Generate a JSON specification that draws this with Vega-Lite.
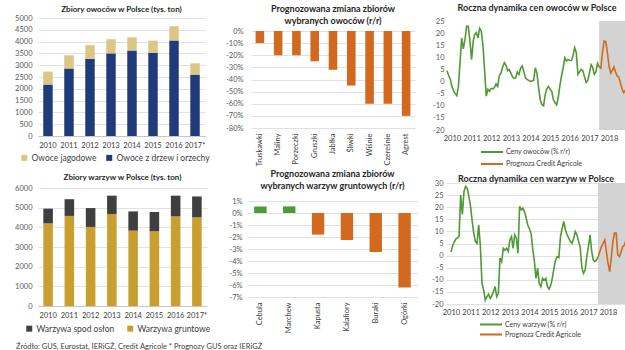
{
 "$schema": "https://vega.github.io/schema/vega-lite/v6.json",
 "padding": {"left": 0, "top": 3, "right": 0, "bottom": 0},
 "background": "white",
 "config": {
   "font": "Lato",
   "view": {"stroke": null},
   "axis": {"labelFont": "Lato", "labelFontSize": 7.5, "labelColor": "#595959", "gridColor": "#D9D9D9", "gridWidth": 0.8, "domainColor": "#BFBFBF", "domainWidth": 0.8, "ticks": false},
   "title": {"font": "Lato", "fontSize": 9, "fontWeight": "bold", "color": "#262626", "lineHeight": 12},
   "legend": {"labelFont": "Lato", "labelColor": "#404040"}
 },
 "title": {"text": "Źródło: GUS, Eurostat, IERiGŻ, Credit Agricole  * Prognozy GUS oraz IERiGŻ", "orient": "bottom", "anchor": "start", "fontSize": 7.5, "fontWeight": "normal", "color": "#404040", "offset": 4, "dx": 16},
 "spacing": 1,
 "resolve": {"scale": {"x": "independent", "y": "independent", "color": "independent"}},
 "vconcat": [
  {
   "spacing": 5,
   "resolve": {"scale": {"x": "independent", "y": "independent", "color": "independent"}},
   "hconcat": [
    {
     "width": 167, "height": 118,
     "title": {"text": "Zbiory owoców w Polsce (tys. ton)", "anchor": "middle", "offset": 0, "fontSize": 8},
     "data": {"values": [
       {"rok": "2010", "kategoria": "Owoce z drzew i orzechy", "tys_ton": 2180},
       {"rok": "2010", "kategoria": "Owoce jagodowe", "tys_ton": 550},
       {"rok": "2011", "kategoria": "Owoce z drzew i orzechy", "tys_ton": 2860},
       {"rok": "2011", "kategoria": "Owoce jagodowe", "tys_ton": 560},
       {"rok": "2012", "kategoria": "Owoce z drzew i orzechy", "tys_ton": 3270},
       {"rok": "2012", "kategoria": "Owoce jagodowe", "tys_ton": 580},
       {"rok": "2013", "kategoria": "Owoce z drzew i orzechy", "tys_ton": 3500},
       {"rok": "2013", "kategoria": "Owoce jagodowe", "tys_ton": 600},
       {"rok": "2014", "kategoria": "Owoce z drzew i orzechy", "tys_ton": 3620},
       {"rok": "2014", "kategoria": "Owoce jagodowe", "tys_ton": 560},
       {"rok": "2015", "kategoria": "Owoce z drzew i orzechy", "tys_ton": 3520},
       {"rok": "2015", "kategoria": "Owoce jagodowe", "tys_ton": 520},
       {"rok": "2016", "kategoria": "Owoce z drzew i orzechy", "tys_ton": 4050},
       {"rok": "2016", "kategoria": "Owoce jagodowe", "tys_ton": 600},
       {"rok": "2017*", "kategoria": "Owoce z drzew i orzechy", "tys_ton": 2600},
       {"rok": "2017*", "kategoria": "Owoce jagodowe", "tys_ton": 480}
     ]},
     "mark": {"type": "bar"},
     "encoding": {
       "x": {"field": "rok", "type": "ordinal", "sort": null, "title": null, "scale": {"paddingInner": 0.55, "paddingOuter": 0.25}, "axis": {"labelAngle": 0, "labelPadding": 5, "labelColor": "#404040"}},
       "y": {"field": "tys_ton", "type": "quantitative", "stack": "zero", "title": null, "scale": {"domain": [0, 5000]}, "axis": {"values": [0, 500, 1000, 1500, 2000, 2500, 3000, 3500, 4000, 4500, 5000], "format": "d", "domain": false, "labelPadding": 6, "minExtent": 38, "maxExtent": 38}},
       "color": {"field": "kategoria", "type": "nominal", "scale": {"domain": ["Owoce jagodowe", "Owoce z drzew i orzechy"], "range": ["#DDC583", "#1F3B7A"]}, "legend": {"title": null, "orient": "none", "legendX": -18, "legendY": 135.5, "direction": "horizontal", "symbolType": "square", "symbolSize": 36, "labelFontSize": 8.5, "columnPadding": 8, "labelOffset": 3}},
       "order": {"field": "kategoria", "sort": "descending"}
     }
    },
    {
     "width": 164, "height": 110,
     "title": {"text": ["Prognozowana zmiana zbiorów", "wybranych owoców (r/r)"], "anchor": "middle", "offset": -7.5, "frame": "group"},
     "data": {"values": [
       {"owoc": "Truskawki", "zmiana": -10},
       {"owoc": "Maliny", "zmiana": -20},
       {"owoc": "Porzeczki", "zmiana": -20},
       {"owoc": "Gruszki", "zmiana": -25},
       {"owoc": "Jabłka", "zmiana": -32},
       {"owoc": "Śliwki", "zmiana": -45},
       {"owoc": "Wiśnie", "zmiana": -60},
       {"owoc": "Czereśnie", "zmiana": -60},
       {"owoc": "Agrest", "zmiana": -70}
     ]},
     "mark": {"type": "bar", "color": "#D2691E"},
     "encoding": {
       "x": {"field": "owoc", "type": "nominal", "sort": null, "title": null, "scale": {"paddingInner": 0.53, "paddingOuter": 0.25}, "axis": {"labelAngle": -90, "domain": false, "labelPadding": 5, "labelColor": "#404040"}},
       "y": {"field": "zmiana", "type": "quantitative", "title": null, "scale": {"domain": [-80, 0], "range": [110, 13]}, "axis": {"values": [-80, -70, -60, -50, -40, -30, -20, -10, 0], "labelExpr": "datum.value + '%'", "domain": false, "labelPadding": 8, "minExtent": 36, "maxExtent": 36}}
     }
    },
    {
     "width": 180, "height": 112,
     "title": {"text": "Roczna dynamika cen owoców w Polsce", "anchor": "middle", "offset": 4.2},
     "layer": [
      {
       "data": {"values": [{"poczatek": "2017-07", "koniec": "2018-12"}], "format": {"parse": {"poczatek": "date", "koniec": "date"}}},
       "mark": {"type": "rect", "color": "#D3D3D3"},
       "encoding": {
         "x": {"field": "poczatek", "type": "temporal", "title": null, "scale": {"type": "utc", "domain": [{"year": 2009, "month": 10, "date": 1, "utc": true}, {"year": 2018, "month": 12, "date": 1, "utc": true}]}, "axis": {"format": "%Y", "values": [{"year": 2010, "utc": true}, {"year": 2011, "utc": true}, {"year": 2012, "utc": true}, {"year": 2013, "utc": true}, {"year": 2014, "utc": true}, {"year": 2015, "utc": true}, {"year": 2016, "utc": true}, {"year": 2017, "utc": true}, {"year": 2018, "utc": true}], "labelOverlap": false, "grid": false, "domain": false, "labelPadding": 4, "labelColor": "#404040"}},
         "x2": {"field": "koniec"},
         "y": {"datum": 25, "type": "quantitative", "title": null, "scale": {"domain": [-20, 25], "range": [112, 3]}, "axis": {"values": [-20, -15, -10, -5, 0, 5, 10, 15, 20, 25], "labelExpr": "datum.value + ''", "domain": false, "labelPadding": 3, "minExtent": 27, "maxExtent": 27}},
         "y2": {"datum": -20}
       }
      },
      {
       "data": {"values": [
        {"miesiac": "2009-10", "zmiana": 4.5, "seria": "Ceny owoców (% r/r)"},
        {"miesiac": "2009-11", "zmiana": 2.5, "seria": "Ceny owoców (% r/r)"},
        {"miesiac": "2009-12", "zmiana": 1, "seria": "Ceny owoców (% r/r)"},
        {"miesiac": "2010-01", "zmiana": -2, "seria": "Ceny owoców (% r/r)"},
        {"miesiac": "2010-02", "zmiana": -3.8, "seria": "Ceny owoców (% r/r)"},
        {"miesiac": "2010-03", "zmiana": -5, "seria": "Ceny owoców (% r/r)"},
        {"miesiac": "2010-04", "zmiana": -5.8, "seria": "Ceny owoców (% r/r)"},
        {"miesiac": "2010-05", "zmiana": -2, "seria": "Ceny owoców (% r/r)"},
        {"miesiac": "2010-06", "zmiana": 8, "seria": "Ceny owoców (% r/r)"},
        {"miesiac": "2010-07", "zmiana": 18, "seria": "Ceny owoców (% r/r)"},
        {"miesiac": "2010-08", "zmiana": 13.5, "seria": "Ceny owoców (% r/r)"},
        {"miesiac": "2010-09", "zmiana": 17.5, "seria": "Ceny owoców (% r/r)"},
        {"miesiac": "2010-10", "zmiana": 22.8, "seria": "Ceny owoców (% r/r)"},
        {"miesiac": "2010-11", "zmiana": 22.8, "seria": "Ceny owoców (% r/r)"},
        {"miesiac": "2010-12", "zmiana": 17, "seria": "Ceny owoców (% r/r)"},
        {"miesiac": "2011-01", "zmiana": 9, "seria": "Ceny owoców (% r/r)"},
        {"miesiac": "2011-02", "zmiana": 16.7, "seria": "Ceny owoców (% r/r)"},
        {"miesiac": "2011-03", "zmiana": 19.5, "seria": "Ceny owoców (% r/r)"},
        {"miesiac": "2011-04", "zmiana": 20.2, "seria": "Ceny owoców (% r/r)"},
        {"miesiac": "2011-05", "zmiana": 18, "seria": "Ceny owoców (% r/r)"},
        {"miesiac": "2011-06", "zmiana": 22, "seria": "Ceny owoców (% r/r)"},
        {"miesiac": "2011-07", "zmiana": 20.8, "seria": "Ceny owoców (% r/r)"},
        {"miesiac": "2011-08", "zmiana": 15, "seria": "Ceny owoców (% r/r)"},
        {"miesiac": "2011-09", "zmiana": 4.3, "seria": "Ceny owoców (% r/r)"},
        {"miesiac": "2011-10", "zmiana": -6, "seria": "Ceny owoców (% r/r)"},
        {"miesiac": "2011-11", "zmiana": -3.2, "seria": "Ceny owoców (% r/r)"},
        {"miesiac": "2011-12", "zmiana": -4, "seria": "Ceny owoców (% r/r)"},
        {"miesiac": "2012-01", "zmiana": -2.8, "seria": "Ceny owoców (% r/r)"},
        {"miesiac": "2012-02", "zmiana": -3, "seria": "Ceny owoców (% r/r)"},
        {"miesiac": "2012-03", "zmiana": -2.5, "seria": "Ceny owoców (% r/r)"},
        {"miesiac": "2012-04", "zmiana": -1, "seria": "Ceny owoców (% r/r)"},
        {"miesiac": "2012-05", "zmiana": -2, "seria": "Ceny owoców (% r/r)"},
        {"miesiac": "2012-06", "zmiana": 2.5, "seria": "Ceny owoców (% r/r)"},
        {"miesiac": "2012-07", "zmiana": 3.5, "seria": "Ceny owoców (% r/r)"},
        {"miesiac": "2012-08", "zmiana": 6, "seria": "Ceny owoców (% r/r)"},
        {"miesiac": "2012-09", "zmiana": 7.8, "seria": "Ceny owoców (% r/r)"},
        {"miesiac": "2012-10", "zmiana": 6.8, "seria": "Ceny owoców (% r/r)"},
        {"miesiac": "2012-11", "zmiana": 4.5, "seria": "Ceny owoców (% r/r)"},
        {"miesiac": "2012-12", "zmiana": 5, "seria": "Ceny owoców (% r/r)"},
        {"miesiac": "2013-01", "zmiana": 3.5, "seria": "Ceny owoców (% r/r)"},
        {"miesiac": "2013-02", "zmiana": 2, "seria": "Ceny owoców (% r/r)"},
        {"miesiac": "2013-03", "zmiana": 1.3, "seria": "Ceny owoców (% r/r)"},
        {"miesiac": "2013-04", "zmiana": 1.5, "seria": "Ceny owoców (% r/r)"},
        {"miesiac": "2013-05", "zmiana": 4, "seria": "Ceny owoców (% r/r)"},
        {"miesiac": "2013-06", "zmiana": 3, "seria": "Ceny owoców (% r/r)"},
        {"miesiac": "2013-07", "zmiana": 5.5, "seria": "Ceny owoców (% r/r)"},
        {"miesiac": "2013-08", "zmiana": 6.4, "seria": "Ceny owoców (% r/r)"},
        {"miesiac": "2013-09", "zmiana": 4, "seria": "Ceny owoców (% r/r)"},
        {"miesiac": "2013-10", "zmiana": 1.5, "seria": "Ceny owoców (% r/r)"},
        {"miesiac": "2013-11", "zmiana": 0.8, "seria": "Ceny owoców (% r/r)"},
        {"miesiac": "2013-12", "zmiana": 0.5, "seria": "Ceny owoców (% r/r)"},
        {"miesiac": "2014-01", "zmiana": 0, "seria": "Ceny owoców (% r/r)"},
        {"miesiac": "2014-02", "zmiana": 0.3, "seria": "Ceny owoców (% r/r)"},
        {"miesiac": "2014-03", "zmiana": 0.5, "seria": "Ceny owoców (% r/r)"},
        {"miesiac": "2014-04", "zmiana": 5.7, "seria": "Ceny owoców (% r/r)"},
        {"miesiac": "2014-05", "zmiana": 3.5, "seria": "Ceny owoców (% r/r)"},
        {"miesiac": "2014-06", "zmiana": -2.5, "seria": "Ceny owoców (% r/r)"},
        {"miesiac": "2014-07", "zmiana": -7.5, "seria": "Ceny owoców (% r/r)"},
        {"miesiac": "2014-08", "zmiana": -9.5, "seria": "Ceny owoców (% r/r)"},
        {"miesiac": "2014-09", "zmiana": -10, "seria": "Ceny owoców (% r/r)"},
        {"miesiac": "2014-10", "zmiana": -5.5, "seria": "Ceny owoców (% r/r)"},
        {"miesiac": "2014-11", "zmiana": -3, "seria": "Ceny owoców (% r/r)"},
        {"miesiac": "2014-12", "zmiana": -2, "seria": "Ceny owoców (% r/r)"},
        {"miesiac": "2015-01", "zmiana": -3.2, "seria": "Ceny owoców (% r/r)"},
        {"miesiac": "2015-02", "zmiana": -4, "seria": "Ceny owoców (% r/r)"},
        {"miesiac": "2015-03", "zmiana": -7.3, "seria": "Ceny owoców (% r/r)"},
        {"miesiac": "2015-04", "zmiana": -8.7, "seria": "Ceny owoców (% r/r)"},
        {"miesiac": "2015-05", "zmiana": -9.6, "seria": "Ceny owoców (% r/r)"},
        {"miesiac": "2015-06", "zmiana": -6.6, "seria": "Ceny owoców (% r/r)"},
        {"miesiac": "2015-07", "zmiana": -1.8, "seria": "Ceny owoców (% r/r)"},
        {"miesiac": "2015-08", "zmiana": 2.3, "seria": "Ceny owoców (% r/r)"},
        {"miesiac": "2015-09", "zmiana": 5.7, "seria": "Ceny owoców (% r/r)"},
        {"miesiac": "2015-10", "zmiana": 9.8, "seria": "Ceny owoców (% r/r)"},
        {"miesiac": "2015-11", "zmiana": 8.5, "seria": "Ceny owoców (% r/r)"},
        {"miesiac": "2015-12", "zmiana": 9.1, "seria": "Ceny owoców (% r/r)"},
        {"miesiac": "2016-01", "zmiana": 8.7, "seria": "Ceny owoców (% r/r)"},
        {"miesiac": "2016-02", "zmiana": 8.7, "seria": "Ceny owoców (% r/r)"},
        {"miesiac": "2016-03", "zmiana": 10.5, "seria": "Ceny owoców (% r/r)"},
        {"miesiac": "2016-04", "zmiana": 14, "seria": "Ceny owoców (% r/r)"},
        {"miesiac": "2016-05", "zmiana": 12, "seria": "Ceny owoców (% r/r)"},
        {"miesiac": "2016-06", "zmiana": 3, "seria": "Ceny owoców (% r/r)"},
        {"miesiac": "2016-07", "zmiana": 4, "seria": "Ceny owoców (% r/r)"},
        {"miesiac": "2016-08", "zmiana": 5, "seria": "Ceny owoców (% r/r)"},
        {"miesiac": "2016-09", "zmiana": 4.5, "seria": "Ceny owoców (% r/r)"},
        {"miesiac": "2016-10", "zmiana": 2, "seria": "Ceny owoców (% r/r)"},
        {"miesiac": "2016-11", "zmiana": -0.4, "seria": "Ceny owoców (% r/r)"},
        {"miesiac": "2016-12", "zmiana": 0.5, "seria": "Ceny owoców (% r/r)"},
        {"miesiac": "2017-01", "zmiana": 3.5, "seria": "Ceny owoców (% r/r)"},
        {"miesiac": "2017-02", "zmiana": 7, "seria": "Ceny owoców (% r/r)"},
        {"miesiac": "2017-03", "zmiana": 6, "seria": "Ceny owoców (% r/r)"},
        {"miesiac": "2017-04", "zmiana": 3, "seria": "Ceny owoców (% r/r)"},
        {"miesiac": "2017-05", "zmiana": 4, "seria": "Ceny owoców (% r/r)"},
        {"miesiac": "2017-06", "zmiana": 7.5, "seria": "Ceny owoców (% r/r)"},
        {"miesiac": "2017-07", "zmiana": 6, "seria": "Ceny owoców (% r/r)"},
        {"miesiac": "2017-07", "zmiana": 6, "seria": "Prognoza Credit Agricole"},
        {"miesiac": "2017-08", "zmiana": 5.5, "seria": "Prognoza Credit Agricole"},
        {"miesiac": "2017-09", "zmiana": 12, "seria": "Prognoza Credit Agricole"},
        {"miesiac": "2017-10", "zmiana": 16.7, "seria": "Prognoza Credit Agricole"},
        {"miesiac": "2017-11", "zmiana": 16.5, "seria": "Prognoza Credit Agricole"},
        {"miesiac": "2017-12", "zmiana": 12, "seria": "Prognoza Credit Agricole"},
        {"miesiac": "2018-01", "zmiana": 6.4, "seria": "Prognoza Credit Agricole"},
        {"miesiac": "2018-02", "zmiana": 3.5, "seria": "Prognoza Credit Agricole"},
        {"miesiac": "2018-03", "zmiana": 4.5, "seria": "Prognoza Credit Agricole"},
        {"miesiac": "2018-04", "zmiana": 6, "seria": "Prognoza Credit Agricole"},
        {"miesiac": "2018-05", "zmiana": 4, "seria": "Prognoza Credit Agricole"},
        {"miesiac": "2018-06", "zmiana": 2.3, "seria": "Prognoza Credit Agricole"},
        {"miesiac": "2018-07", "zmiana": 1.8, "seria": "Prognoza Credit Agricole"},
        {"miesiac": "2018-08", "zmiana": -0.5, "seria": "Prognoza Credit Agricole"},
        {"miesiac": "2018-09", "zmiana": -3.2, "seria": "Prognoza Credit Agricole"},
        {"miesiac": "2018-10", "zmiana": -4.6, "seria": "Prognoza Credit Agricole"},
        {"miesiac": "2018-11", "zmiana": -3.6, "seria": "Prognoza Credit Agricole"},
        {"miesiac": "2018-12", "zmiana": -2.8, "seria": "Prognoza Credit Agricole"}
       ]},
       "mark": {"type": "line", "strokeWidth": 1.6},
       "encoding": {
         "x": {"field": "miesiac", "type": "temporal", "title": null, "scale": {"type": "utc", "domain": [{"year": 2009, "month": 10, "date": 1, "utc": true}, {"year": 2018, "month": 12, "date": 1, "utc": true}]}, "axis": {"format": "%Y", "values": [{"year": 2010, "utc": true}, {"year": 2011, "utc": true}, {"year": 2012, "utc": true}, {"year": 2013, "utc": true}, {"year": 2014, "utc": true}, {"year": 2015, "utc": true}, {"year": 2016, "utc": true}, {"year": 2017, "utc": true}, {"year": 2018, "utc": true}], "labelOverlap": false, "grid": false, "domain": false, "labelPadding": 4, "labelColor": "#404040"}},
         "y": {"field": "zmiana", "type": "quantitative", "title": null, "scale": {"domain": [-20, 25], "range": [112, 3]}, "axis": {"values": [-20, -15, -10, -5, 0, 5, 10, 15, 20, 25], "labelExpr": "datum.value + ''", "domain": false, "labelPadding": 3, "minExtent": 27, "maxExtent": 27}},
         "color": {"field": "seria", "type": "nominal", "scale": {"domain": ["Ceny owoców (% r/r)", "Prognoza Credit Agricole"], "range": ["#4E9A34", "#D2691E"]}, "legend": {"title": null, "orient": "none", "legendX": 39, "legendY": 128, "direction": "vertical", "symbolType": "M-2.2,0H2.2", "symbolSize": 100, "symbolStrokeWidth": 2, "labelFontSize": 7, "rowPadding": 2, "labelOffset": 8}}
       }
      }
     ]
    }
   ]
  },
  {
   "spacing": 5,
   "resolve": {"scale": {"x": "independent", "y": "independent", "color": "independent"}},
   "hconcat": [
    {
     "width": 169, "height": 123,
     "title": {"text": "Zbiory warzyw w Polsce (tys. ton)", "anchor": "middle", "offset": 1, "fontSize": 8},
     "data": {"values": [
       {"rok": "2010", "kategoria": "Warzywa gruntowe", "tys_ton": 4200},
       {"rok": "2010", "kategoria": "Warzywa spod osłon", "tys_ton": 750},
       {"rok": "2011", "kategoria": "Warzywa gruntowe", "tys_ton": 4580},
       {"rok": "2011", "kategoria": "Warzywa spod osłon", "tys_ton": 850},
       {"rok": "2012", "kategoria": "Warzywa gruntowe", "tys_ton": 4020},
       {"rok": "2012", "kategoria": "Warzywa spod osłon", "tys_ton": 960},
       {"rok": "2013", "kategoria": "Warzywa gruntowe", "tys_ton": 4680},
       {"rok": "2013", "kategoria": "Warzywa spod osłon", "tys_ton": 930},
       {"rok": "2014", "kategoria": "Warzywa gruntowe", "tys_ton": 3830},
       {"rok": "2014", "kategoria": "Warzywa spod osłon", "tys_ton": 980},
       {"rok": "2015", "kategoria": "Warzywa gruntowe", "tys_ton": 3800},
       {"rok": "2015", "kategoria": "Warzywa spod osłon", "tys_ton": 980},
       {"rok": "2016", "kategoria": "Warzywa gruntowe", "tys_ton": 4560},
       {"rok": "2016", "kategoria": "Warzywa spod osłon", "tys_ton": 1050},
       {"rok": "2017*", "kategoria": "Warzywa gruntowe", "tys_ton": 4510},
       {"rok": "2017*", "kategoria": "Warzywa spod osłon", "tys_ton": 1060}
     ]},
     "mark": {"type": "bar"},
     "encoding": {
       "x": {"field": "rok", "type": "ordinal", "sort": null, "title": null, "scale": {"paddingInner": 0.55, "paddingOuter": 0.25}, "axis": {"labelAngle": 0, "labelPadding": 5, "labelColor": "#404040"}},
       "y": {"field": "tys_ton", "type": "quantitative", "stack": "zero", "title": null, "scale": {"domain": [0, 6000], "range": [123, 5]}, "axis": {"values": [0, 1000, 2000, 3000, 4000, 5000, 6000], "format": "d", "domain": false, "labelPadding": 6, "minExtent": 38, "maxExtent": 38}},
       "color": {"field": "kategoria", "type": "nominal", "scale": {"domain": ["Warzywa spod osłon", "Warzywa gruntowe"], "range": ["#3F3F3F", "#C9A030"]}, "legend": {"title": null, "orient": "none", "legendX": -13, "legendY": 141.3, "direction": "horizontal", "symbolType": "square", "symbolSize": 36, "labelFontSize": 8.5, "columnPadding": 11, "labelOffset": 3}},
       "order": {"field": "kategoria", "sort": "ascending"}
     }
    },
    {
     "width": 171, "height": 114,
     "title": {"text": ["Prognozowana zmiana zbiorów", "wybranych warzyw gruntowych (r/r)"], "anchor": "middle", "offset": -7.8, "frame": "group"},
     "data": {"values": [
       {"warzywo": "Cebula", "zmiana": 0.55},
       {"warzywo": "Marchew", "zmiana": 0.55},
       {"warzywo": "Kapusta", "zmiana": -1.8},
       {"warzywo": "Kalafiory", "zmiana": -2.25},
       {"warzywo": "Buraki", "zmiana": -3.25},
       {"warzywo": "Ogórki", "zmiana": -6.2}
     ]},
     "mark": {"type": "bar"},
     "encoding": {
       "x": {"field": "warzywo", "type": "nominal", "sort": null, "title": null, "scale": {"paddingInner": 0.57, "paddingOuter": 0.25}, "axis": {"labelAngle": -90, "domain": false, "labelPadding": 5, "labelColor": "#404040"}},
       "y": {"field": "zmiana", "type": "quantitative", "title": null, "scale": {"domain": [-7, 1], "range": [114, 18]}, "axis": {"values": [-7, -6, -5, -4, -3, -2, -1, 0, 1], "labelExpr": "datum.value + '%'", "domain": false, "labelPadding": 5, "minExtent": 31, "maxExtent": 31}},
       "color": {"condition": {"test": "datum.zmiana > 0", "value": "#4E9A34"}, "value": "#D2691E"}
     }
    },
    {
     "width": 180, "height": 121,
     "title": {"text": "Roczna dynamika cen warzyw w Polsce", "anchor": "middle", "offset": -4.5},
     "layer": [
      {
       "data": {"values": [{"poczatek": "2017-07", "koniec": "2018-12"}], "format": {"parse": {"poczatek": "date", "koniec": "date"}}},
       "mark": {"type": "rect", "color": "#D3D3D3"},
       "encoding": {
         "x": {"field": "poczatek", "type": "temporal", "title": null, "scale": {"type": "utc", "domain": [{"year": 2009, "month": 10, "date": 1, "utc": true}, {"year": 2018, "month": 12, "date": 1, "utc": true}]}, "axis": {"format": "%Y", "values": [{"year": 2010, "utc": true}, {"year": 2011, "utc": true}, {"year": 2012, "utc": true}, {"year": 2013, "utc": true}, {"year": 2014, "utc": true}, {"year": 2015, "utc": true}, {"year": 2016, "utc": true}, {"year": 2017, "utc": true}, {"year": 2018, "utc": true}], "labelOverlap": false, "grid": false, "domain": false, "labelPadding": 4, "labelColor": "#404040"}},
         "x2": {"field": "koniec"}
       }
      },
      {
       "data": {"values": [
        {"miesiac": "2010-01", "zmiana": 1.5, "seria": "Ceny warzyw (% r/r)"},
        {"miesiac": "2010-02", "zmiana": 4, "seria": "Ceny warzyw (% r/r)"},
        {"miesiac": "2010-03", "zmiana": 5.5, "seria": "Ceny warzyw (% r/r)"},
        {"miesiac": "2010-04", "zmiana": 6.8, "seria": "Ceny warzyw (% r/r)"},
        {"miesiac": "2010-05", "zmiana": 7.3, "seria": "Ceny warzyw (% r/r)"},
        {"miesiac": "2010-06", "zmiana": 8, "seria": "Ceny warzyw (% r/r)"},
        {"miesiac": "2010-07", "zmiana": 25, "seria": "Ceny warzyw (% r/r)"},
        {"miesiac": "2010-08", "zmiana": 17, "seria": "Ceny warzyw (% r/r)"},
        {"miesiac": "2010-09", "zmiana": 26.5, "seria": "Ceny warzyw (% r/r)"},
        {"miesiac": "2010-10", "zmiana": 28.6, "seria": "Ceny warzyw (% r/r)"},
        {"miesiac": "2010-11", "zmiana": 27.8, "seria": "Ceny warzyw (% r/r)"},
        {"miesiac": "2010-12", "zmiana": 24.4, "seria": "Ceny warzyw (% r/r)"},
        {"miesiac": "2011-01", "zmiana": 20.3, "seria": "Ceny warzyw (% r/r)"},
        {"miesiac": "2011-02", "zmiana": 14, "seria": "Ceny warzyw (% r/r)"},
        {"miesiac": "2011-03", "zmiana": 9.3, "seria": "Ceny warzyw (% r/r)"},
        {"miesiac": "2011-04", "zmiana": 5.8, "seria": "Ceny warzyw (% r/r)"},
        {"miesiac": "2011-05", "zmiana": 5, "seria": "Ceny warzyw (% r/r)"},
        {"miesiac": "2011-06", "zmiana": 12.7, "seria": "Ceny warzyw (% r/r)"},
        {"miesiac": "2011-07", "zmiana": 4.4, "seria": "Ceny warzyw (% r/r)"},
        {"miesiac": "2011-08", "zmiana": -11.5, "seria": "Ceny warzyw (% r/r)"},
        {"miesiac": "2011-09", "zmiana": -14.2, "seria": "Ceny warzyw (% r/r)"},
        {"miesiac": "2011-10", "zmiana": -18.4, "seria": "Ceny warzyw (% r/r)"},
        {"miesiac": "2011-11", "zmiana": -17, "seria": "Ceny warzyw (% r/r)"},
        {"miesiac": "2011-12", "zmiana": -16, "seria": "Ceny warzyw (% r/r)"},
        {"miesiac": "2012-01", "zmiana": -17.7, "seria": "Ceny warzyw (% r/r)"},
        {"miesiac": "2012-02", "zmiana": -16.6, "seria": "Ceny warzyw (% r/r)"},
        {"miesiac": "2012-03", "zmiana": -14.9, "seria": "Ceny warzyw (% r/r)"},
        {"miesiac": "2012-04", "zmiana": -12.8, "seria": "Ceny warzyw (% r/r)"},
        {"miesiac": "2012-05", "zmiana": -17, "seria": "Ceny warzyw (% r/r)"},
        {"miesiac": "2012-06", "zmiana": -15.6, "seria": "Ceny warzyw (% r/r)"},
        {"miesiac": "2012-07", "zmiana": -1, "seria": "Ceny warzyw (% r/r)"},
        {"miesiac": "2012-08", "zmiana": -2.5, "seria": "Ceny warzyw (% r/r)"},
        {"miesiac": "2012-09", "zmiana": 3, "seria": "Ceny warzyw (% r/r)"},
        {"miesiac": "2012-10", "zmiana": 2.3, "seria": "Ceny warzyw (% r/r)"},
        {"miesiac": "2012-11", "zmiana": 3, "seria": "Ceny warzyw (% r/r)"},
        {"miesiac": "2012-12", "zmiana": 1.7, "seria": "Ceny warzyw (% r/r)"},
        {"miesiac": "2013-01", "zmiana": 6.5, "seria": "Ceny warzyw (% r/r)"},
        {"miesiac": "2013-02", "zmiana": 7.9, "seria": "Ceny warzyw (% r/r)"},
        {"miesiac": "2013-03", "zmiana": 3, "seria": "Ceny warzyw (% r/r)"},
        {"miesiac": "2013-04", "zmiana": 8.6, "seria": "Ceny warzyw (% r/r)"},
        {"miesiac": "2013-05", "zmiana": 7.2, "seria": "Ceny warzyw (% r/r)"},
        {"miesiac": "2013-06", "zmiana": 1, "seria": "Ceny warzyw (% r/r)"},
        {"miesiac": "2013-07", "zmiana": 20.3, "seria": "Ceny warzyw (% r/r)"},
        {"miesiac": "2013-08", "zmiana": 18.9, "seria": "Ceny warzyw (% r/r)"},
        {"miesiac": "2013-09", "zmiana": 19.6, "seria": "Ceny warzyw (% r/r)"},
        {"miesiac": "2013-10", "zmiana": 18.2, "seria": "Ceny warzyw (% r/r)"},
        {"miesiac": "2013-11", "zmiana": 15.5, "seria": "Ceny warzyw (% r/r)"},
        {"miesiac": "2013-12", "zmiana": 12.5, "seria": "Ceny warzyw (% r/r)"},
        {"miesiac": "2014-01", "zmiana": 11, "seria": "Ceny warzyw (% r/r)"},
        {"miesiac": "2014-02", "zmiana": 9, "seria": "Ceny warzyw (% r/r)"},
        {"miesiac": "2014-03", "zmiana": 3, "seria": "Ceny warzyw (% r/r)"},
        {"miesiac": "2014-04", "zmiana": -2, "seria": "Ceny warzyw (% r/r)"},
        {"miesiac": "2014-05", "zmiana": -9.4, "seria": "Ceny warzyw (% r/r)"},
        {"miesiac": "2014-06", "zmiana": -5.2, "seria": "Ceny warzyw (% r/r)"},
        {"miesiac": "2014-07", "zmiana": -11.5, "seria": "Ceny warzyw (% r/r)"},
        {"miesiac": "2014-08", "zmiana": -12.8, "seria": "Ceny warzyw (% r/r)"},
        {"miesiac": "2014-09", "zmiana": -9.4, "seria": "Ceny warzyw (% r/r)"},
        {"miesiac": "2014-10", "zmiana": -10.1, "seria": "Ceny warzyw (% r/r)"},
        {"miesiac": "2014-11", "zmiana": -9.4, "seria": "Ceny warzyw (% r/r)"},
        {"miesiac": "2014-12", "zmiana": -12.8, "seria": "Ceny warzyw (% r/r)"},
        {"miesiac": "2015-01", "zmiana": -13.8, "seria": "Ceny warzyw (% r/r)"},
        {"miesiac": "2015-02", "zmiana": -12.2, "seria": "Ceny warzyw (% r/r)"},
        {"miesiac": "2015-03", "zmiana": -9.4, "seria": "Ceny warzyw (% r/r)"},
        {"miesiac": "2015-04", "zmiana": -5.2, "seria": "Ceny warzyw (% r/r)"},
        {"miesiac": "2015-05", "zmiana": -1.8, "seria": "Ceny warzyw (% r/r)"},
        {"miesiac": "2015-06", "zmiana": -0.4, "seria": "Ceny warzyw (% r/r)"},
        {"miesiac": "2015-07", "zmiana": -0.8, "seria": "Ceny warzyw (% r/r)"},
        {"miesiac": "2015-08", "zmiana": 7.9, "seria": "Ceny warzyw (% r/r)"},
        {"miesiac": "2015-09", "zmiana": 11.3, "seria": "Ceny warzyw (% r/r)"},
        {"miesiac": "2015-10", "zmiana": 14.1, "seria": "Ceny warzyw (% r/r)"},
        {"miesiac": "2015-11", "zmiana": 10.6, "seria": "Ceny warzyw (% r/r)"},
        {"miesiac": "2015-12", "zmiana": 8.6, "seria": "Ceny warzyw (% r/r)"},
        {"miesiac": "2016-01", "zmiana": 7.2, "seria": "Ceny warzyw (% r/r)"},
        {"miesiac": "2016-02", "zmiana": 5.8, "seria": "Ceny warzyw (% r/r)"},
        {"miesiac": "2016-03", "zmiana": 5.1, "seria": "Ceny warzyw (% r/r)"},
        {"miesiac": "2016-04", "zmiana": 7, "seria": "Ceny warzyw (% r/r)"},
        {"miesiac": "2016-05", "zmiana": 9.9, "seria": "Ceny warzyw (% r/r)"},
        {"miesiac": "2016-06", "zmiana": 8.6, "seria": "Ceny warzyw (% r/r)"},
        {"miesiac": "2016-07", "zmiana": 6, "seria": "Ceny warzyw (% r/r)"},
        {"miesiac": "2016-08", "zmiana": 3.5, "seria": "Ceny warzyw (% r/r)"},
        {"miesiac": "2016-09", "zmiana": -5, "seria": "Ceny warzyw (% r/r)"},
        {"miesiac": "2016-10", "zmiana": -7.3, "seria": "Ceny warzyw (% r/r)"},
        {"miesiac": "2016-11", "zmiana": -6, "seria": "Ceny warzyw (% r/r)"},
        {"miesiac": "2016-12", "zmiana": -0.4, "seria": "Ceny warzyw (% r/r)"},
        {"miesiac": "2017-01", "zmiana": 3.7, "seria": "Ceny warzyw (% r/r)"},
        {"miesiac": "2017-02", "zmiana": 8.6, "seria": "Ceny warzyw (% r/r)"},
        {"miesiac": "2017-03", "zmiana": 2, "seria": "Ceny warzyw (% r/r)"},
        {"miesiac": "2017-04", "zmiana": -1.8, "seria": "Ceny warzyw (% r/r)"},
        {"miesiac": "2017-05", "zmiana": -2.5, "seria": "Ceny warzyw (% r/r)"},
        {"miesiac": "2017-06", "zmiana": -1.8, "seria": "Ceny warzyw (% r/r)"},
        {"miesiac": "2017-07", "zmiana": -0.5, "seria": "Ceny warzyw (% r/r)"},
        {"miesiac": "2017-07", "zmiana": -0.5, "seria": "Prognoza Credit Agricole"},
        {"miesiac": "2017-08", "zmiana": 1.7, "seria": "Prognoza Credit Agricole"},
        {"miesiac": "2017-09", "zmiana": 3.7, "seria": "Prognoza Credit Agricole"},
        {"miesiac": "2017-10", "zmiana": 5.1, "seria": "Prognoza Credit Agricole"},
        {"miesiac": "2017-11", "zmiana": 6.5, "seria": "Prognoza Credit Agricole"},
        {"miesiac": "2017-12", "zmiana": 1.7, "seria": "Prognoza Credit Agricole"},
        {"miesiac": "2018-01", "zmiana": -3.2, "seria": "Prognoza Credit Agricole"},
        {"miesiac": "2018-02", "zmiana": -6.6, "seria": "Prognoza Credit Agricole"},
        {"miesiac": "2018-03", "zmiana": -1.1, "seria": "Prognoza Credit Agricole"},
        {"miesiac": "2018-04", "zmiana": 5.8, "seria": "Prognoza Credit Agricole"},
        {"miesiac": "2018-05", "zmiana": 9.3, "seria": "Prognoza Credit Agricole"},
        {"miesiac": "2018-06", "zmiana": 9.3, "seria": "Prognoza Credit Agricole"},
        {"miesiac": "2018-07", "zmiana": 0.3, "seria": "Prognoza Credit Agricole"},
        {"miesiac": "2018-08", "zmiana": -0.4, "seria": "Prognoza Credit Agricole"},
        {"miesiac": "2018-09", "zmiana": 1.7, "seria": "Prognoza Credit Agricole"},
        {"miesiac": "2018-10", "zmiana": 3.7, "seria": "Prognoza Credit Agricole"},
        {"miesiac": "2018-11", "zmiana": 4.4, "seria": "Prognoza Credit Agricole"},
        {"miesiac": "2018-12", "zmiana": 6.5, "seria": "Prognoza Credit Agricole"}
       ]},
       "mark": {"type": "line", "strokeWidth": 1.6},
       "encoding": {
         "x": {"field": "miesiac", "type": "temporal", "title": null, "scale": {"type": "utc", "domain": [{"year": 2009, "month": 10, "date": 1, "utc": true}, {"year": 2018, "month": 12, "date": 1, "utc": true}]}, "axis": {"format": "%Y", "values": [{"year": 2010, "utc": true}, {"year": 2011, "utc": true}, {"year": 2012, "utc": true}, {"year": 2013, "utc": true}, {"year": 2014, "utc": true}, {"year": 2015, "utc": true}, {"year": 2016, "utc": true}, {"year": 2017, "utc": true}, {"year": 2018, "utc": true}], "labelOverlap": false, "grid": false, "domain": false, "labelPadding": 4, "labelColor": "#404040"}},
         "y": {"field": "zmiana", "type": "quantitative", "title": null, "scale": {"domain": [-20, 30]}, "axis": {"values": [-20, -15, -10, -5, 0, 5, 10, 15, 20, 25, 30], "labelExpr": "datum.value + ''", "domain": false, "labelPadding": 3, "minExtent": 23, "maxExtent": 23}},
         "color": {"field": "seria", "type": "nominal", "scale": {"domain": ["Ceny warzyw (% r/r)", "Prognoza Credit Agricole"], "range": ["#4E9A34", "#D2691E"]}, "legend": {"title": null, "orient": "none", "legendX": 39, "legendY": 135.5, "direction": "vertical", "symbolType": "M-2.2,0H2.2", "symbolSize": 100, "symbolStrokeWidth": 2, "labelFontSize": 7, "rowPadding": 0, "labelOffset": 8}}
       }
      }
     ]
    }
   ]
  }
 ]
}
